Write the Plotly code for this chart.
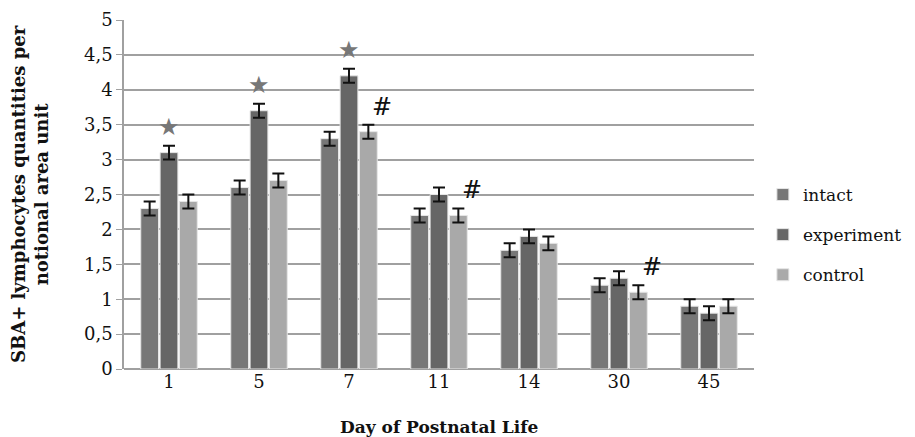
import plotly.graph_objects as go

days = ["1", "5", "7", "11", "14", "30", "45"]
intact = [2.3, 2.6, 3.3, 2.2, 1.7, 1.2, 0.9]
experiment = [3.1, 3.7, 4.2, 2.5, 1.9, 1.3, 0.8]
control = [2.4, 2.7, 3.4, 2.2, 1.8, 1.1, 0.9]
err_intact = [0.1, 0.1, 0.1, 0.1, 0.1, 0.1, 0.1]
err_experiment = [0.1, 0.1, 0.1, 0.1, 0.1, 0.1, 0.1]
err_control = [0.1, 0.1, 0.1, 0.1, 0.1, 0.1, 0.1]
star_days = ["1", "5", "7"]
hash_days = ["7", "11", "30"]

FONT = "DejaVu Serif"
series = [
    ("intact", intact, err_intact, "#777777"),
    ("experiment", experiment, err_experiment, "#666666"),
    ("control", control, err_control, "#a9a9a9"),
]

fig = go.Figure()
for i, (name, vals, errs, col) in enumerate(series):
    fig.add_trace(go.Bar(
        x=days, y=vals, name=name, legendgroup=name,
        marker=dict(color=col, line=dict(color="#e6e6e6", width=1)),
        error_y=dict(type="data", array=errs, color="#111111", thickness=2, width=6),
    ))

annotations = []
for d in star_days:
    k = days.index(d)
    annotations.append(dict(x=k, y=experiment[k] + err_experiment[k], xref="x", yref="y",
                            text="★", showarrow=False, yanchor="bottom", yshift=3,
                            font=dict(family="DejaVu Sans", size=24, color="#777777")))
for d in hash_days:
    k = days.index(d)
    annotations.append(dict(x=k, y=control[k] + err_control[k], xref="x", yref="y",
                            text="#", showarrow=False, yanchor="bottom", xshift=33, yshift=2,
                            font=dict(family=FONT, size=24, color="#111111")))
annotations.append(dict(x=-0.15, y=0.5, xref="paper", yref="paper", textangle=-90,
                        text="<b>SBA+ lymphocytes quantities per<br>notional area unit</b>",
                        showarrow=False, xanchor="center", yanchor="middle",
                        font=dict(family=FONT, size=18, color="#111111")))
annotations.append(dict(x=0.5, y=-0.165, xref="paper", yref="paper",
                        text="<b>Day of Postnatal Life</b>",
                        showarrow=False, xanchor="center", yanchor="middle",
                        font=dict(family=FONT, size=17, color="#111111")))

fig.update_layout(
    width=915, height=437,
    margin=dict(l=116, r=169, t=12, b=76),
    paper_bgcolor="white", plot_bgcolor="white",
    separators=", ",
    barmode="group", bargap=0.355, bargroupgap=0.08,
    font=dict(family=FONT, size=17, color="#111111"),
    legend=dict(xref="container", yref="paper", x=0.825, y=0.384,
                xanchor="left", yanchor="middle",
                font=dict(family=FONT, size=17, color="#111111"),
                tracegroupgap=15, itemwidth=30),
    annotations=annotations,
    xaxis=dict(type="category", range=[-0.5, 6.5], showgrid=False, showline=False, ticks="",
               automargin=False, tickfont=dict(family=FONT, size=18)),
    yaxis=dict(range=[0, 5], dtick=0.5, showgrid=True, gridcolor="#a0a0a0", gridwidth=1.5,
               zeroline=True, zerolinecolor="#a0a0a0", zerolinewidth=1.5,
               showline=True, linecolor="#a0a0a0", linewidth=1.5,
               ticks="outside", ticklen=6, tickcolor="#a0a0a0", automargin=False,
               tickfont=dict(family=FONT, size=18)),
)

fig.write_html("out.html")
